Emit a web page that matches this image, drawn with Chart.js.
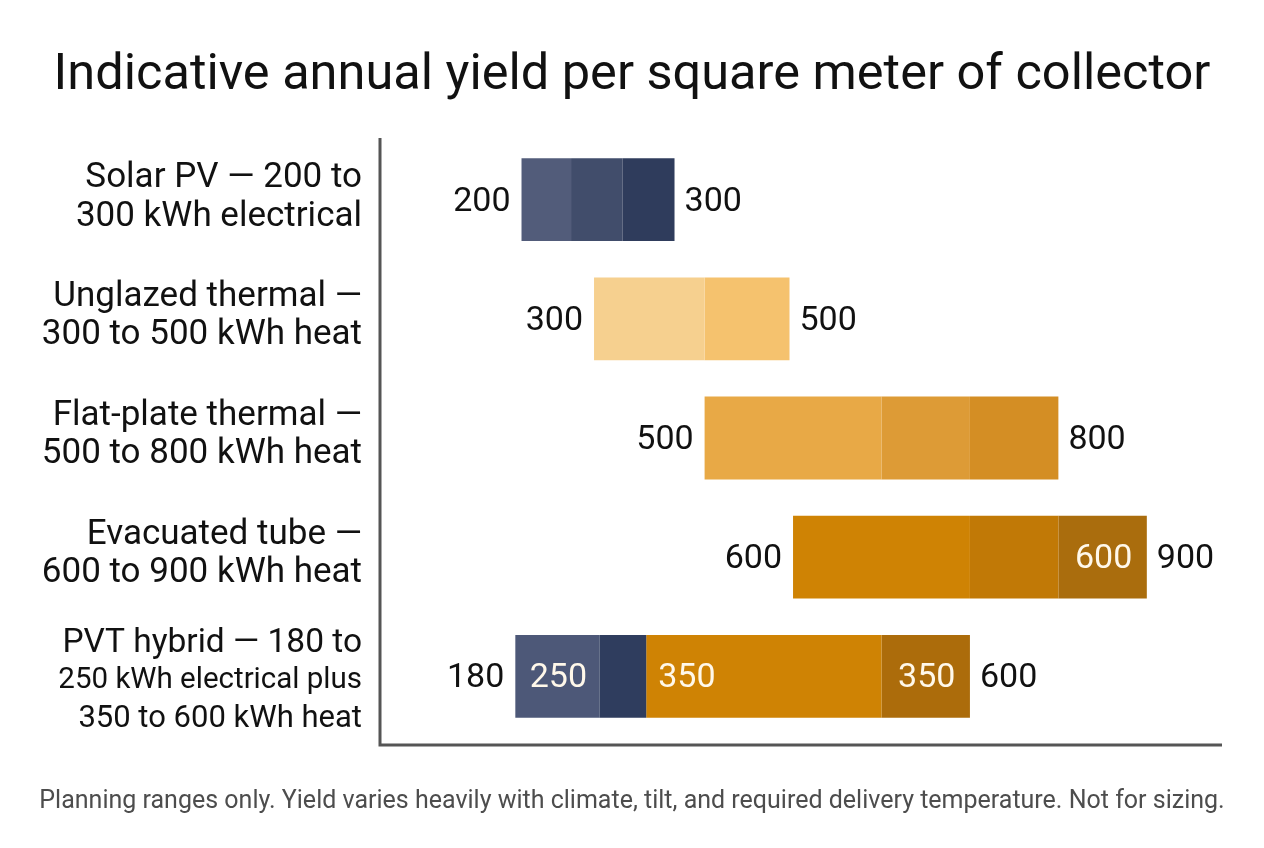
<!DOCTYPE html>
<html>
<head>
<meta charset="utf-8">
<script src="https://cdn.jsdelivr.net/npm/chart.js@4.4.1/dist/chart.umd.min.js"></script>
<style>
  html, body { margin: 0; padding: 0; background: #ffffff; }
  #wrap { position: relative; width: 1264px; height: 848px; overflow: hidden; background: #fff; }
  #chart { position: absolute; left: 0; top: 0; }
  #title { position: absolute; left: 0; width: 1264px; top: 47px; text-align: center; white-space: nowrap;
           font-family: Roboto, "Noto Sans", sans-serif; font-size: 50.5px; line-height: 1; color: #111; }
  #note { position: absolute; left: 0; width: 1264px; top: 787px; text-align: center; white-space: nowrap;
          font-family: Roboto, "Noto Sans", sans-serif; font-size: 25px; line-height: 1; color: #4d4d4d; }
</style>
</head>
<body>
<div id="wrap">
  <canvas id="chart" width="1264" height="848"></canvas>
  <div id="title">Indicative annual yield per square meter of collector</div>
  <div id="note">Planning ranges only. Yield varies heavily with climate, tilt, and required delivery temperature. Not for sizing.</div>
</div>
<script>
// ---- Data ----
const categories = [
  ['Solar PV \u2014 200 to', '300 kWh electrical'],
  ['Unglazed thermal \u2014', '300 to 500 kWh heat'],
  ['Flat-plate thermal \u2014', '500 to 800 kWh heat'],
  ['Evacuated tube \u2014', '600 to 900 kWh heat'],
  ['PVT hybrid \u2014 180 to', '250 kWh electrical plus', '350 to 600 kWh heat']
];
// segment boundaries of each bar, as placed on the (hidden) kWh axis
const solarEdges    = [193, 249, 307, 366];
const unglazedEdges = [275, 400, 496];
const flatEdges     = [400, 600, 700, 800];
const evacEdges     = [500, 700, 800, 900];
const pvtEdges      = [186, 281, 334, 600, 700];
const barEdges = [solarEdges, unglazedEdges, flatEdges, evacEdges, pvtEdges];

const startLabels = ['200', '300', '500', '600', '180'];
const endLabels   = ['300', '500', '800', '900', '600'];
const innerLabels = [
  [null, null, null],
  [null, null],
  [null, null, null],
  [null, null, '600'],
  ['250', null, '350', '350']
];

// ---- Styles ----
const segColors = [
  ['#525c7a', '#414d6b', '#2f3c5c'],
  ['#f6d08f', '#f5c26e'],
  ['#e8a946', '#dd9b36', '#d48e24'],
  ['#cf8304', '#c17906', '#aa6d0d'],
  ['#4d5878', '#2f3d5e', '#cf8304', '#ac6c0b']
];
const innerAlign = [
  [], [], [], ['center', 'center', 'center'],
  ['center', 'center', 'start', 'center']
];
// per-line font size and vertical offset (from row centre) of the category labels
const catLineSizes   = [[35, 35], [35, 35], [35, 35], [35, 35], [33.5, 29.5, 31]];
const catLineOffsets = [[-21, 18], [-22, 16.5], [-22, 16.5], [-22, 16.5], [-33, 4.5, 43]];
const FONT = 'Roboto, "Noto Sans", sans-serif';

const maxSegs = Math.max(...barEdges.map(e => e.length - 1));
const datasets = [];
for (let s = 0; s < maxSegs; s++) {
  datasets.push({
    label: 'segment ' + (s + 1),
    data: barEdges.map(e => (e.length > s + 1 ? [e[s], e[s + 1]] : null)),
    backgroundColor: segColors.map(c => c[s] || 'rgba(0,0,0,0)'),
    borderWidth: 0,
    borderSkipped: false,
    grouped: false,
    barPercentage: 0.695,
    categoryPercentage: 1.0
  });
}

const axisLines = {
  id: 'axisLines',
  afterDraw(chart) {
    const { ctx, chartArea } = chart;
    ctx.save();
    ctx.strokeStyle = '#555555';
    ctx.lineWidth = 3;
    ctx.beginPath();
    ctx.moveTo(chartArea.left, chartArea.top - 2);
    ctx.lineTo(chartArea.left, chartArea.bottom + 9);
    ctx.lineTo(chartArea.right, chartArea.bottom + 9);
    ctx.stroke();
    ctx.restore();
  }
};

const categoryLabels = {
  id: 'categoryLabels',
  afterDraw(chart) {
    const { ctx, chartArea } = chart;
    const ys = chart.scales.y;
    ctx.save();
    ctx.fillStyle = '#111111';
    ctx.textAlign = 'right';
    ctx.textBaseline = 'middle';
    categories.forEach((lines, i) => {
      const yc = ys.getPixelForValue(i);
      lines.forEach((line, k) => {
        ctx.font = catLineSizes[i][k] + 'px ' + FONT;
        ctx.fillText(line, chartArea.left - 18, yc + catLineOffsets[i][k]);
      });
    });
    ctx.restore();
  }
};

const valueLabels = {
  id: 'valueLabels',
  afterDatasetsDraw(chart) {
    const { ctx } = chart;
    const xs = chart.scales.x, ys = chart.scales.y;
    ctx.save();
    ctx.textBaseline = 'middle';
    ctx.font = '34px ' + FONT;
    barEdges.forEach((edges, i) => {
      const y = ys.getPixelForValue(i) + 2.5;
      const x0 = xs.getPixelForValue(edges[0]);
      const x1 = xs.getPixelForValue(edges[edges.length - 1]);
      ctx.fillStyle = '#111111';
      ctx.textAlign = 'right';
      ctx.fillText(startLabels[i], x0 - 11, y);
      ctx.textAlign = 'left';
      ctx.fillText(endLabels[i], x1 + 10, y);
      innerLabels[i].forEach((t, s) => {
        if (!t) return;
        const a = xs.getPixelForValue(edges[s]);
        const b = xs.getPixelForValue(edges[s + 1]);
        ctx.fillStyle = '#fff8ea';
        if ((innerAlign[i][s] || 'center') === 'start') {
          ctx.textAlign = 'left';
          ctx.fillText(t, a + 12, y);
        } else {
          ctx.textAlign = 'center';
          ctx.fillText(t, (a + b) / 2 + 1, y);
        }
      });
    });
    ctx.restore();
  }
};

new Chart(document.getElementById('chart'), {
  type: 'bar',
  data: { labels: categories.map(l => l.join(' ')), datasets },
  options: {
    indexAxis: 'y',
    responsive: false,
    animation: false,
    devicePixelRatio: 1,
    layout: { padding: { left: 0, right: 42, top: 140, bottom: 112 } },
    plugins: { legend: { display: false }, tooltip: { enabled: false }, title: { display: false } },
    scales: {
      x: { type: 'linear', min: 33, max: 985, display: false },
      y: {
        type: 'category',
        grid: { display: false },
        border: { display: false },
        ticks: { display: false },
        afterFit(scale) { scale.width = 380; }
      }
    }
  },
  plugins: [axisLines, categoryLabels, valueLabels]
});
</script>
</body>
</html>
